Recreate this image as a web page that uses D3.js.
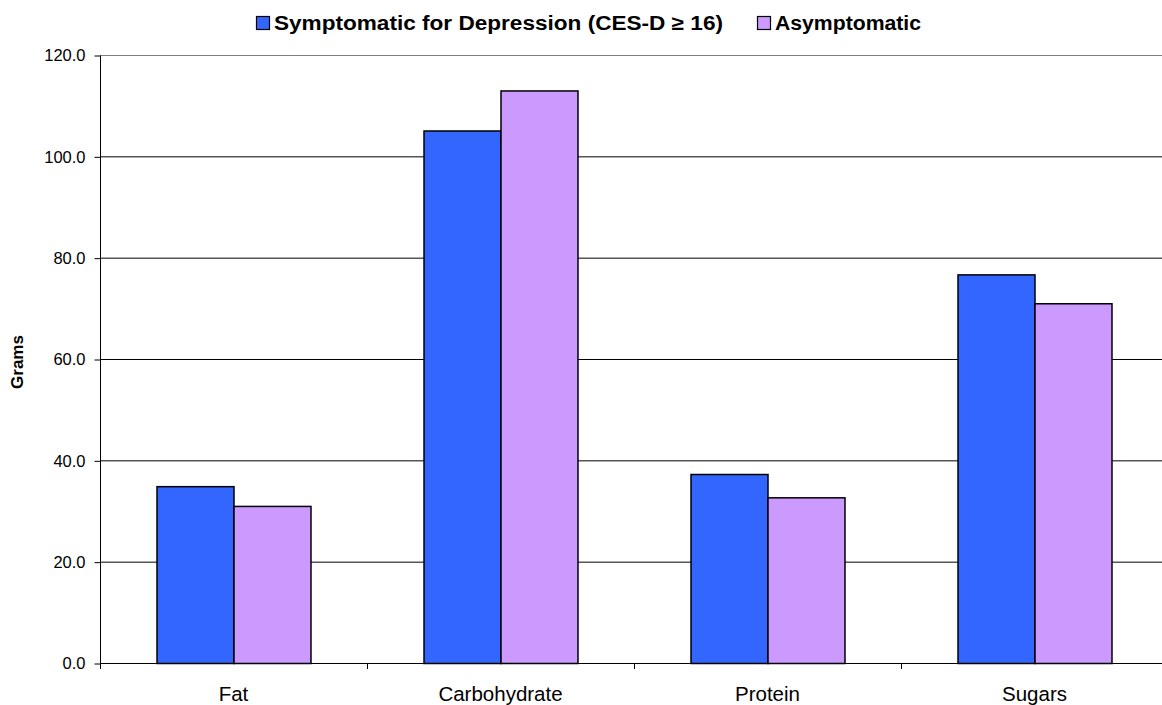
<!DOCTYPE html>
<html>
<head>
<meta charset="utf-8">
<script src="https://cdn.jsdelivr.net/npm/d3@7"></script>
<style>
  html, body { margin: 0; padding: 0; background: #fff; }
  svg { display: block; font-family: "Liberation Sans", Arial, sans-serif; }
</style>
</head>
<body>
<svg id="chart" width="1162" height="705"></svg>
<script>
// Average daily intake (grams) by depression status
const categories = ["Fat", "Carbohydrate", "Protein", "Sugars"];
const seriesNames = ["Symptomatic for Depression (CES-D \u2265 16)", "Asymptomatic"];
const symptomatic = [34.9, 105.1, 37.3, 76.7];
const asymptomatic = [31.0, 113.0, 32.7, 71.0];
const yTicks = [0, 20, 40, 60, 80, 100, 120];
const colors = ["#3366FF", "#CC99FF"];

const svg = d3.select("#chart");
const x0 = 100, x1 = 1168;       // plot area runs slightly past the right edge
const yTop = 55, yBot = 663;

const x = d3.scaleBand().domain(categories).range([x0, x1]).paddingInner(0).paddingOuter(0);
// two touching bars per category with equal gaps either side
const xs = d3.scaleBand().domain([0, 1]).range([0, x.bandwidth()]).paddingInner(0).paddingOuter(0.734);
const y = d3.scaleLinear().domain([0, 120]).range([yBot, yTop]);

// gridlines
svg.append("g").selectAll("line").data(yTicks.filter(t => t > 0)).join("line")
  .attr("x1", x0).attr("x2", x1)
  .attr("y1", d => y(d) + 0.5).attr("y2", d => y(d) + 0.5)
  .attr("stroke", d => d === 120 ? "#808080" : "#000").attr("stroke-width", 1);

// bars
const data = categories.map((c, i) => ({ c, vals: [symptomatic[i], asymptomatic[i]] }));
const groups = svg.append("g").selectAll("g").data(data).join("g")
  .attr("transform", d => `translate(${x(d.c)},0)`);
groups.selectAll("rect").data(d => d.vals.map((v, k) => ({ v, k }))).join("rect")
  .attr("x", d => xs(d.k) + 0.5)
  .attr("width", xs.bandwidth())
  .attr("y", d => y(d.v) + 0.5)
  .attr("height", d => y(0) - y(d.v))
  .attr("fill", d => colors[d.k])
  .attr("stroke", "#000").attr("stroke-width", 1.5);

// y axis
const yAxis = d3.axisLeft(y).tickValues(yTicks).tickFormat(d3.format(".1f")).tickSize(6).tickPadding(9);
const gy = svg.append("g").attr("transform", `translate(${x0 + 0.5},0.5)`).call(yAxis);
gy.select(".domain").attr("d", `M0,${yTop}V${yBot}`).attr("stroke", "#000");
gy.selectAll(".tick line").attr("stroke", "#000");
gy.selectAll("text").attr("font-size", 16.5).attr("fill", "#000")
  .attr("font-family", "Liberation Sans, Arial, sans-serif");

// x axis baseline and category boundary ticks
svg.append("line").attr("x1", x0).attr("x2", x1).attr("y1", yBot + 0.5).attr("y2", yBot + 0.5).attr("stroke", "#000");
svg.append("g").selectAll("line").data(categories).join("line")
  .attr("x1", d => x(d) + 0.5).attr("x2", d => x(d) + 0.5)
  .attr("y1", yBot).attr("y2", yBot + 6).attr("stroke", "#000");
svg.append("g").selectAll("text").data(categories).join("text")
  .attr("x", d => x(d) + x.bandwidth() / 2)
  .attr("y", 701)
  .attr("text-anchor", "middle").attr("font-size", 20.5).attr("fill", "#000")
  .text(d => d);

// y axis title
svg.append("text")
  .attr("transform", `translate(23,362) rotate(-90)`)
  .attr("text-anchor", "middle").attr("font-size", 17).attr("font-weight", "bold")
  .attr("textLength", 54).attr("lengthAdjust", "spacingAndGlyphs")
  .text("Grams");

// legend
const legend = [
  { name: seriesNames[0], color: colors[0], x: 256, w: 449 },
  { name: seriesNames[1], color: colors[1], x: 757, w: 146 }
];
const lg = svg.append("g").selectAll("g").data(legend).join("g")
  .attr("transform", d => `translate(${d.x},0)`);
lg.append("rect").attr("x", 0.5).attr("y", 16.5).attr("width", 13).attr("height", 13)
  .attr("fill", d => d.color).attr("stroke", "#000").attr("stroke-width", 1.2);
lg.append("text").attr("x", 18).attr("y", 29.5)
  .attr("font-size", 20).attr("font-weight", "bold")
  .attr("textLength", d => d.w).attr("lengthAdjust", "spacingAndGlyphs")
  .text(d => d.name);
</script>
</body>
</html>
